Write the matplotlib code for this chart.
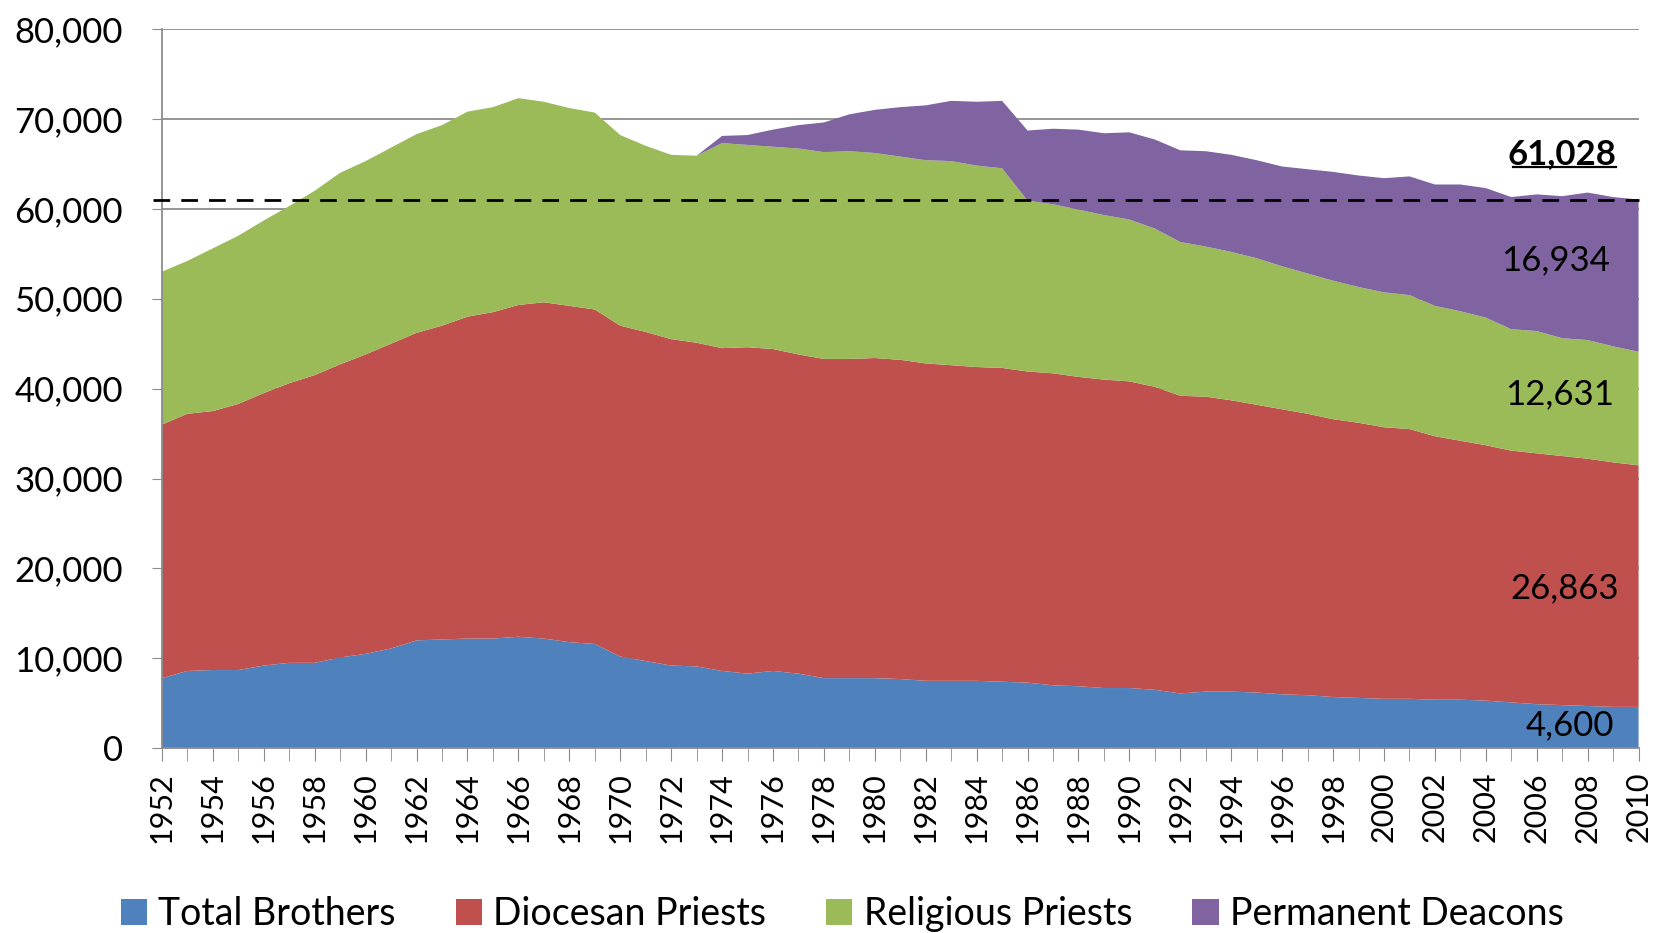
import matplotlib
matplotlib.use("Agg")
import matplotlib.pyplot as plt
import numpy as np
from matplotlib.ticker import FuncFormatter, MultipleLocator

years = list(range(1952, 2011))

# cumulative tops, converted to per-series values below
brothers = [7800, 8600, 8700, 8700, 9200, 9500, 9500, 10100, 10500, 11100,
            12000, 12100, 12200, 12200, 12400, 12200, 11800, 11600, 10200, 9700,
            9200, 9100, 8600, 8300, 8600, 8300, 7800, 7800, 7800, 7700,
            7500, 7500, 7500, 7400, 7300, 7000, 6900, 6700, 6700, 6500,
            6100, 6300, 6300, 6200, 6000, 5900, 5700, 5600, 5500, 5500,
            5400, 5400, 5300, 5100, 4900, 4800, 4700, 4600, 4600]
top_diocesan = [36000, 37200, 37500, 38300, 39500, 40600, 41500, 42700, 43800, 45000,
                46200, 47000, 48000, 48500, 49300, 49600, 49200, 48800, 47000, 46300,
                45500, 45100, 44500, 44600, 44400, 43800, 43300, 43300, 43400, 43200,
                42800, 42600, 42400, 42300, 41900, 41700, 41300, 41000, 40800, 40200,
                39200, 39100, 38700, 38200, 37700, 37200, 36600, 36200, 35700, 35500,
                34700, 34200, 33700, 33100, 32800, 32500, 32200, 31800, 31463]
top_religious = [53000, 54200, 55600, 57000, 58700, 60300, 62000, 64000, 65300, 66800,
                 68300, 69300, 70800, 71300, 72300, 71900, 71200, 70700, 68200, 67000,
                 66000, 65900, 67300, 67100, 66900, 66700, 66300, 66400, 66200, 65800,
                 65400, 65300, 64800, 64500, 60900, 60500, 59900, 59300, 58800, 57800,
                 56300, 55800, 55200, 54500, 53600, 52800, 52000, 51300, 50700, 50400,
                 49200, 48600, 47900, 46600, 46400, 45600, 45400, 44700, 44094]
top_total = [53000, 54200, 55600, 57000, 58700, 60300, 62000, 64000, 65300, 66800,
             68300, 69300, 70800, 71300, 72300, 71900, 71200, 70700, 68200, 67000,
             66000, 65900, 68100, 68200, 68800, 69300, 69600, 70500, 71000, 71300,
             71500, 72000, 71900, 72000, 68700, 68900, 68800, 68400, 68500, 67700,
             66500, 66400, 66000, 65400, 64700, 64400, 64100, 63700, 63400, 63600,
             62700, 62700, 62300, 61300, 61600, 61400, 61800, 61300, 61028]

labels = ["Total Brothers", "Diocesan Priests", "Religious Priests", "Permanent Deacons"]
colors = ["#4F81BD", "#C0504D", "#9BBB59", "#8064A2"]

diocesan = np.array(top_diocesan) - np.array(brothers)
religious = np.array(top_religious) - np.array(top_diocesan)
deacons = np.array(top_total) - np.array(top_religious)

plt.rcParams['font.family'] = ['Lato', 'DejaVu Sans']

fig = plt.figure(figsize=(16.61, 9.33), dpi=100)
ax = fig.add_axes([0.0975, 0.198, 0.889, 0.771])

ax.stackplot(years, brothers, diocesan, religious, deacons, colors=colors,
             labels=labels, linewidth=0, zorder=2)

ax.set_xlim(1952, 2010)
ax.set_ylim(0, 80000)
ax.yaxis.set_major_locator(MultipleLocator(10000))
ax.yaxis.set_major_formatter(FuncFormatter(lambda v, p: f"{int(v):,}"))
ax.grid(axis="y", color="#8c8c8c", linewidth=1.3, zorder=1)
ax.set_axisbelow(True)

ax.set_xticks(years[::2])
ax.set_xticks(years, minor=True)
ax.set_xticklabels([str(y) for y in years[::2]], rotation=90)
ax.tick_params(axis="x", which="both", direction="out", length=9, color="#8c8c8c",
               labelsize=22, pad=8)
ax.tick_params(axis="y", length=7, color="#8c8c8c", labelsize=25, pad=21)

for s in ["top", "right"]:
    ax.spines[s].set_visible(False)
for s in ["left", "bottom"]:
    ax.spines[s].set_color("#8c8c8c")
    ax.spines[s].set_linewidth(1.3)

ax.plot([1951.65, 2010], [top_total[-1]] * 2, color="black", linestyle=(0, (6, 4)),
        linewidth=2, zorder=4, clip_on=False)

ax.text(2007.0, 66100, f"{top_total[-1]:,}", ha="center", va="center",
        fontsize=25, fontweight="bold", zorder=5)
ax.plot([2005.05, 2009.1], [64600, 64600], color="black", lw=1.6, zorder=5)
ax.text(2006.75, 54300, f"{deacons[-1]:,}", ha="center", va="center", fontsize=25, zorder=5)
ax.text(2006.9, 39400, f"{religious[-1]:,}", ha="center", va="center", fontsize=25, zorder=5)
ax.text(2007.1, 17800, f"{diocesan[-1]:,}", ha="center", va="center", fontsize=25, zorder=5)
ax.text(2007.3, 2600, f"{brothers[-1]:,}", ha="center", va="center", fontsize=25, zorder=5)

handles, labs = ax.get_legend_handles_labels()
fig.legend(handles, labs, loc="center", bbox_to_anchor=(0.507, 0.02), ncol=4,
           frameon=False, fontsize=27, handlelength=0.7, handleheight=0.7,
           handletextpad=0.3, columnspacing=1.6, borderaxespad=0)

fig.savefig("out.png", dpi=100)
